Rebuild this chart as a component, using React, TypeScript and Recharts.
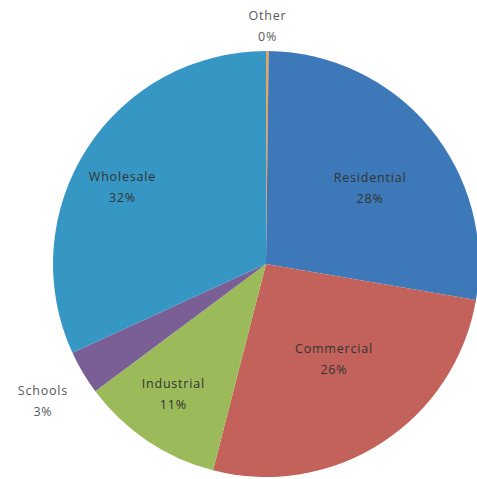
import React from "react";
import { PieChart, Pie, Cell } from "recharts";

const categories = ["Other", "Residential", "Commercial", "Industrial", "Schools", "Wholesale"];
const values = [0.2, 27.5, 26.3, 10.8, 3.35, 31.85];
const percentLabels = ["0%", "28%", "26%", "11%", "3%", "32%"];

const colors = ["#e8a35c", "#3d79b8", "#c2625a", "#9bbb5b", "#7a5f97", "#3797c4"];
const labelRadiusFactor = [1.127, 0.612, 0.54, 0.742, 1.224, 0.77];
const labelAngleOffset = [0, -2.78, 3.26, -2.06, 0.5, 3.77];
const labelColors = ["#595959", "#333333", "#333333", "#333333", "#595959", "#333333"];

const data = categories.map((name, i) => ({ name, value: values[i], pct: percentLabels[i] }));

const RAD = Math.PI / 180;

const renderLabel = (props: any) => {
  const { cx, cy, midAngle, outerRadius, index } = props;
  const r = outerRadius * labelRadiusFactor[index];
  const a = midAngle + labelAngleOffset[index];
  const x = cx + r * Math.cos(-a * RAD);
  const y = cy + r * Math.sin(-a * RAD);
  return (
    <text
      x={x}
      y={y}
      textAnchor="middle"
      fill={labelColors[index]}
      fontFamily="'Open Sans', sans-serif"
      fontSize={12.5}
      letterSpacing={0.8}
    >
      <tspan x={x} dy={-4}>{categories[index]}</tspan>
      <tspan x={x} dy={21}>{percentLabels[index]}</tspan>
    </text>
  );
};

export default function App() {
  return (
    <div style={{ position: "absolute", left: 0, top: 0, width: 477, height: 479, background: "#fff" }}>
      <PieChart width={477} height={479} margin={{ top: 0, right: 0, bottom: 0, left: 0 }}>
        <Pie
          data={data}
          dataKey="value"
          nameKey="name"
          cx={266}
          cy={264}
          outerRadius={213}
          startAngle={90}
          endAngle={-270}
          stroke="none"
          label={renderLabel}
          labelLine={false}
          isAnimationActive={false}
        >
          {data.map((d, i) => (
            <Cell key={d.name} fill={colors[i]} />
          ))}
        </Pie>
      </PieChart>
    </div>
  );
}
